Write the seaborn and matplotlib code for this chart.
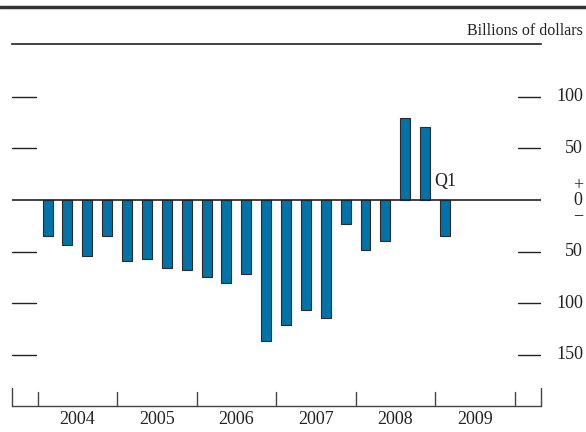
import matplotlib
matplotlib.use("Agg")
import matplotlib.pyplot as plt
import matplotlib.transforms as mtransforms
from matplotlib.lines import Line2D
import seaborn as sns
import pandas as pd

# ---- data ----
years = ["2004", "2005", "2006", "2007", "2008", "2009"]
quarters = [f"{y}Q{q}" for y in years[:5] for q in range(1, 5)] + ["2009Q1"]
values = [-35, -44, -54, -35, -59, -57, -66, -68, -75, -80, -72,
          -137, -121, -107, -114, -23, -48, -40, 79, 71, -35]
ytick_vals = [100, 50, -50, -100, -150]
ytick_labels = ["100", "50", "50", "100", "150"]
zero_label = "+\n0\n\u2212"
unit_label = "Billions of dollars"
last_label = "Q1"

df = pd.DataFrame({"quarter": quarters, "value": values})

sns.set_style("white")
plt.rcParams["font.family"] = ["Liberation Serif", "DejaVu Serif"]

fig = plt.figure(figsize=(5.86, 4.32), dpi=100)
ax = fig.add_axes([12 / 586, 26 / 432, 529 / 586, 362 / 432])

sns.barplot(data=df, x="quarter", y="value", order=quarters, color="#0072A8",
            saturation=1, width=0.5, edgecolor="#2a2a2a", linewidth=0.8, ax=ax)

ax.set_xlim(-1.79, 24.83)
ax.set_ylim(-199.5, 151)
ax.set_xticks([])
ax.set_yticks([])
ax.set_xlabel("")
ax.set_ylabel("")

for s in ["left", "right"]:
    ax.spines[s].set_visible(False)
ax.spines["top"].set_color("#222222")
ax.spines["top"].set_linewidth(1.2)
ax.spines["bottom"].set_color("#444444")
ax.spines["bottom"].set_linewidth(1.0)

# zero line
ax.axhline(0, color="#222222", lw=1.2, zorder=1)

# short horizontal ticks on both sides
tick_len = 23.5 / 529
for v in ytick_vals:
    ax.axhline(v, xmin=0, xmax=tick_len, color="#222222", lw=1.0)
    ax.axhline(v, xmin=1 - tick_len, xmax=1, color="#222222", lw=1.0)

# vertical ticks at year boundaries and edges
tr_x = mtransforms.blended_transform_factory(ax.transData, ax.transAxes)
for k in range(7):
    xb = -0.5 + 4 * k
    ax.plot([xb, xb], [0, 14 / 362], transform=tr_x, color="#444444", lw=1.0,
            clip_on=False)
for xe in [0, 1]:
    ax.plot([xe, xe], [0, 18 / 362], transform=ax.transAxes, color="#444444",
            lw=1.0, clip_on=False)

# year labels
for k, y in enumerate(years):
    ax.text(1.5 + 4 * k, -14 / 362, y, transform=tr_x, ha="center", va="center",
            fontsize=13, color="#222222")

# right-hand labels
tr_fy = mtransforms.blended_transform_factory(fig.transFigure, ax.transData)
for v, lab in zip(ytick_vals, ytick_labels):
    fig.text(583 / 586, v, lab, transform=tr_fy, ha="right", va="center",
             fontsize=13, color="#222222")
fig.text(578 / 586, -0.5, zero_label, transform=tr_fy, ha="center", va="center",
         multialignment="center", linespacing=0.85, fontsize=13, color="#222222")

# Q1 annotation
ax.text(len(quarters) - 1, 10, last_label, ha="center", va="bottom",
        fontsize=13, color="#222222")

# unit label
fig.text(583 / 586, 1 - 35 / 432, unit_label, ha="right", va="baseline",
         fontsize=11.5, color="#222222")

# top rule
fig.add_artist(Line2D([0, 1], [1 - 7 / 432, 1 - 7 / 432], transform=fig.transFigure,
                      color="#333333", lw=2.5))

fig.savefig("out.png", dpi=100)
